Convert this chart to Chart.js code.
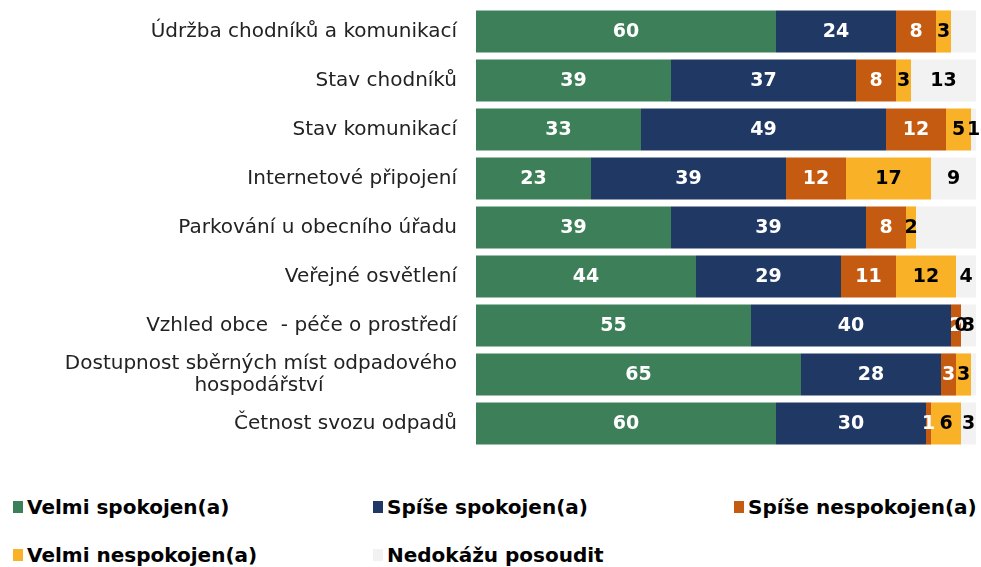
<!DOCTYPE html>
<html>
<head>
<meta charset="utf-8">
<script src="https://cdn.jsdelivr.net/npm/chart.js@4.4.0/dist/chart.umd.min.js"></script>
<style>
  body { margin: 0; background: #fff; width: 981px; height: 567px; overflow: hidden; position: relative; }
  #wrap { position: absolute; left: 0; top: 0; width: 981px; height: 452px; }
  .legend { position: absolute; left: 0; top: 0; font-family: "DejaVu Sans", Verdana, sans-serif; font-weight: bold; font-size: 20px; color: #000; }
  .item { position: absolute; white-space: nowrap; display: flex; align-items: center; }
  .item span.box { display: inline-block; width: 10px; height: 12px; margin-right: 4px; }
</style>
</head>
<body>
<div id="wrap"><canvas id="chart"></canvas></div>
<div class="legend" id="legend"></div>
<script>
// categories and values (percent)
const categories = [
  "Údržba chodníků a komunikací",
  "Stav chodníků",
  "Stav komunikací",
  "Internetové připojení",
  "Parkování u obecního úřadu",
  "Veřejné osvětlení",
  "Vzhled obce  - péče o prostředí",
  ["Dostupnost sběrných míst odpadového", "hospodářství"],
  "Četnost svozu odpadů"
];
const velmiSpokojen = [60, 39, 33, 23, 39, 44, 55, 65, 60];
const spiseSpokojen = [24, 37, 49, 39, 39, 29, 40, 28, 30];
const spiseNespokojen = [8, 8, 12, 12, 8, 11, 2, 3, 1];
const velmiNespokojen = [3, 3, 5, 17, 2, 12, 0, 3, 6];
const nedokazu = [5, 13, 1, 9, 12, 4, 3, 1, 3];
// rows where the grey segment has no value label in the original
const nedokazuNoLabel = [0, 4, 7];

const seriesNames = ["Velmi spokojen(a)", "Spíše spokojen(a)", "Spíše nespokojen(a)", "Velmi nespokojen(a)", "Nedokážu posoudit"];
const colors = ["#3c7f58", "#1f3864", "#c55a11", "#f9b128", "#f2f2f2"];
const labelColors = ["#fff", "#fff", "#fff", "#000", "#000"];
const allData = [velmiSpokojen, spiseSpokojen, spiseNespokojen, velmiNespokojen, nedokazu];

// draw numbers in the middle of each segment
const valueLabels = {
  id: "valueLabels",
  afterDatasetsDraw(chart) {
    const c = chart.ctx;
    c.save();
    c.font = "bold 19px 'DejaVu Sans', Verdana, sans-serif";
    c.textAlign = "center";
    c.textBaseline = "middle";
    chart.data.datasets.forEach((ds, di) => {
      const meta = chart.getDatasetMeta(di);
      meta.data.forEach((el, i) => {
        if (di === 4 && nedokazuNoLabel.includes(i)) return;
        const v = ds.data[i];
        if (v === null || v === undefined) return;
        c.fillStyle = labelColors[di];
        c.fillText(String(v), (el.x + el.base) / 2, el.y + 1);
      });
    });
    c.restore();
  }
};

// wrapped labels: centre the shorter lines under the longest one
const tickFont = "20px 'DejaVu Sans', Verdana, sans-serif";
function centreLines(label) {
  if (!Array.isArray(label)) return label;
  const m = document.createElement("canvas").getContext("2d");
  m.font = tickFont;
  const widest = Math.max(...label.map(s => m.measureText(s).width));
  const spaceW = m.measureText("\u00a0").width;
  return label.map(s => {
    const n = Math.round((widest - m.measureText(s).width) / 2 / spaceW);
    return s + "\u00a0".repeat(n);
  });
}

const ctx = document.getElementById("chart").getContext("2d");
new Chart(ctx, {
  type: "bar",
  data: {
    labels: categories.map(centreLines),
    datasets: allData.map((d, i) => ({
      label: seriesNames[i],
      data: d,
      backgroundColor: colors[i],
      borderWidth: 0,
      barPercentage: 0.86,
      categoryPercentage: 1
    }))
  },
  options: {
    indexAxis: "y",
    responsive: true,
    maintainAspectRatio: false,
    animation: false,
    layout: { padding: { top: 7, right: 5, bottom: 4, left: 0 } },
    plugins: {
      legend: { display: false },
      tooltip: { enabled: false }
    },
    scales: {
      x: {
        stacked: true,
        min: 0,
        max: 100,
        display: false
      },
      y: {
        stacked: true,
        grid: { display: false, drawTicks: false },
        border: { display: false },
        afterFit: (scale) => {
          scale.width = 476;
          scale.paddingTop = 0;
          scale.paddingBottom = 0;
        },
        ticks: {
          padding: 19,
          color: "#222",
          font: { family: "'DejaVu Sans', Verdana, sans-serif", size: 20, lineHeight: 1.1 }
        }
      }
    }
  },
  plugins: [valueLabels]
});

// legend in three columns, two rows
const legendPos = [[13, 508], [373, 508], [734, 508], [13, 556], [373, 556]];
const legend = document.getElementById("legend");
seriesNames.forEach((name, i) => {
  const it = document.createElement("div");
  it.className = "item";
  it.style.left = legendPos[i][0] + "px";
  it.style.top = (legendPos[i][1] - 13) + "px";
  it.innerHTML = '<span class="box" style="background:' + colors[i] + '"></span>' + name;
  legend.appendChild(it);
});
</script>
</body>
</html>
